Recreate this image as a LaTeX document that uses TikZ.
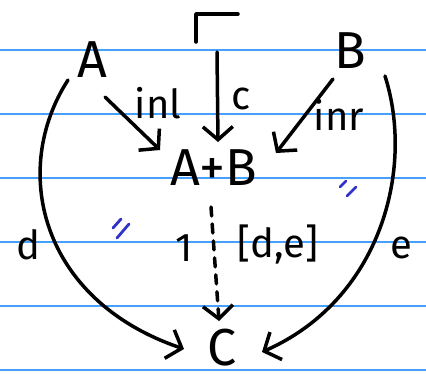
\documentclass[tikz,border=0pt]{standalone}
\usepackage{fontspec}
\setmainfont{Fira Sans}
\usepackage{tikz}
\usetikzlibrary{arrows.meta,positioning}

\definecolor{ruled}{RGB}{70,160,255}
\definecolor{penblue}{RGB}{50,50,200}

\begin{document}
\begin{tikzpicture}[x=1pt,y=-1pt,>={Straight Barb[length=13pt,width=30pt]}]
\tikzset{
				obj/.style={
					inner sep=0pt,
					font=\fontsize{52}{52}\selectfont
				},
				lbl/.style={
					inner sep=0pt,
					font=\fontsize{40}{40}\selectfont
				},
				mor/.style={
					->,
					line width=3.5pt,
					line cap=round,
					line join=round
				},
				ruleline/.style={
					ruled,
					line width=1.6pt
				},
				eqmark/.style={
					penblue,
					line width=2.8pt,
					line cap=round
				}
			}
			\useasboundingbox (0,0) rectangle (426,381);
			\fill[white] (0,0) rectangle (426,381);
			% ruled paper
			\foreach \y in {50,114,178,242,306,370}
				\draw[ruleline] (0,\y) -- (426,\y);
			
			\node[obj] (A) at (92,60) {A};
			\node[obj] (B) at (350,51) {B};
			\node[obj] (AB) at (214,168) {A+B};
			\node[obj] (C) at (222,348) {C};
			
			% pushout corner
			\coordinate (cnr) at (196,14);
			\draw[line width=3.5pt,line cap=round,line join=round] (196,42) -- (cnr) -- (238,14);
			
			\coordinate (ctop) at (217,52);
			\coordinate (ltop) at (68,80);
			\coordinate (rtop) at (385,76);
			\coordinate (Cl) at (184,349);
			\coordinate (Cr) at (262,352);
			
			\draw[mor] (105,97) coordinate (as) -- (160,150) coordinate (ae);
			\draw[mor] (ctop) -- (218,142) coordinate (ce);
			\draw[mor] (333,79) coordinate (bs) -- (276,153) coordinate (be);
			\draw[mor,dash pattern=on 9pt off 8pt] (211,207) coordinate (ds) -- (219,321) coordinate (de);
			\draw[mor] (ltop) .. controls (10,170) and (40,300) .. (Cl);
			\draw[mor] (rtop) .. controls (415,170) and (380,300) .. (Cr);
			
			\node[lbl] (inl) at (158,103) {inl};
			\node[lbl] (c) at (241,99) {c};
			\node[lbl] (inr) at (339,115) {inr};
			\node[lbl] (one) at (184,248) {1};
			\node[lbl] (de) at (278,244) {[d,e]};
			\node[lbl] (d) at (28,245) {d};
			\node[lbl] (e) at (401,248) {e};
			
			% equality marks
			\draw[eqmark] (113,228) -- (121,219) (117,238) -- (129,224);
			\draw[eqmark] (340,187) -- (346,181) (347,196) -- (356,187);
\end{tikzpicture}
\end{document}
